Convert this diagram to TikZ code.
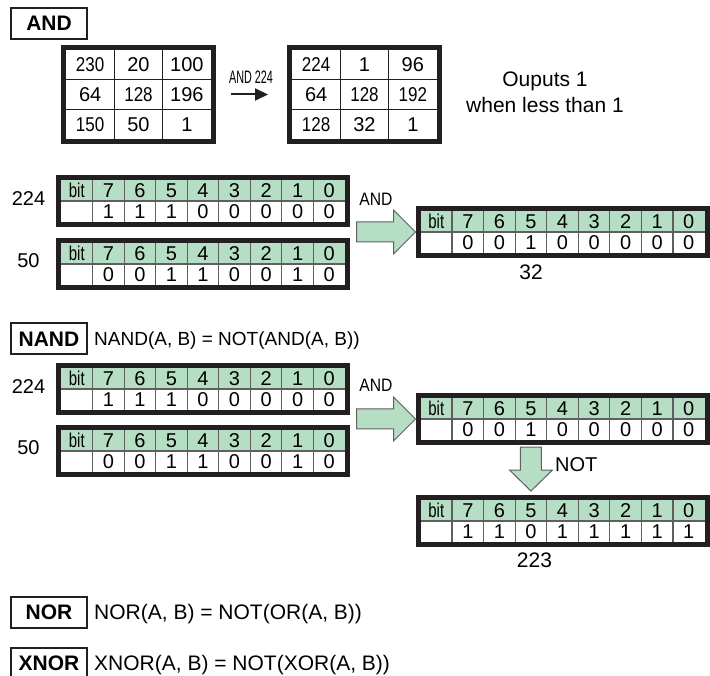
\documentclass[tikz,border=0pt]{standalone}
\usepackage{fontspec}
\setmainfont{Liberation Sans}
\usepackage{graphicx}
\usetikzlibrary{arrows.meta,calc}
\definecolor{hdr}{RGB}{181,222,196}
\definecolor{frm}{RGB}{35,31,32}
\definecolor{grd}{RGB}{95,95,95}
\newcommand\fs[1]{\fontsize{#1}{#1}\selectfont}
\newcommand\cnd[2][0.85]{\scalebox{#1}[1]{#2}}
\newcommand\cw{31.556}
\tikzset{
 regframe/.style={draw=frm, line width=5pt, minimum width=289pt, minimum height=47pt, inner sep=0pt},
 regtxt/.style={inner sep=0pt, font=\fs{20}},
 cellline/.style={draw=grd, line width=1.2pt},
 mframe/.style={draw=frm, line width=5pt, minimum width=150pt, minimum height=94pt, inner sep=0pt},
 mtxt/.style={inner sep=0pt, font=\fs{20}},
 mline/.style={draw=frm, line width=1pt},
 opbox/.style={draw=frm, line width=2pt, minimum width=76pt, minimum height=31pt, inner sep=0pt, font=\fs{21}\bfseries},
 txt/.style={inner sep=0pt, font=\fs{21}},
 blockarrow/.style={fill=hdr, draw=grd, line width=1pt, line join=miter},
}
\newcommand\bitreg[4]{%
  \begin{scope}[shift={(#2,#3)}]
    \fill[hdr] (0,0) rectangle (284,21);
    \fill[white] (0,21) rectangle (284,42);
    \foreach \i in {1,...,8} \draw[cellline] ({\i*\cw},0) -- ({\i*\cw},42);
    \draw[cellline] (0,21) -- (284,21);
    \node[regframe] (#1) at (142,21) {};
    \node[regtxt] (#1-bit) at ({0.5*\cw},10.5) {\cnd[0.75]{bit}};
    \foreach \v [count=\k] in {7,6,5,4,3,2,1,0} \node[regtxt] (#1-h\v) at ({(\k+0.5)*\cw},10.5) {\v};
    \foreach \v [count=\k] in {#4} \node[regtxt] (#1-v\k) at ({(\k+0.5)*\cw},31.5) {\v};
  \end{scope}}
\newcommand\mtx[4]{%
  \begin{scope}[shift={(#2,#3)}]
    \fill[white] (0,0) rectangle (145,89);
    \draw[mline] (48.33,0) -- (48.33,89) (96.67,0) -- (96.67,89) (0,29.67) -- (145,29.67) (0,59.33) -- (145,59.33);
    \node[mframe] (#1) at (72.5,44.5) {};
    \foreach \v [count=\k from 0] in {#4} {
      \pgfmathtruncatemacro\rr{\k/3}
      \pgfmathtruncatemacro\cc{\k-3*\rr}
      \node[mtxt] (#1-\k) at ({(\cc+0.5)*48.33},{(\rr+0.5)*29.67}) {\v};
    }
  \end{scope}}
\begin{document}
\begin{tikzpicture}[x=1pt,y=-1pt]
\useasboundingbox (0,0) rectangle (710,676);
% AND section
\node[opbox] (andbox) at (49,23.5) {AND};
\mtx{M1}{66}{50}{\cnd{230},20,100,64,\cnd{128},196,\cnd{150},50,1}
\mtx{M2}{292}{50}{\cnd{224},1,96,64,\cnd{128},\cnd{192},\cnd{128},32,1}
\draw[line width=2pt, frm, -{Triangle[length=13pt,width=12pt]}, shorten <=15pt, shorten >=19pt] (M1) -- (M2);
\node[inner sep=0pt, font=\fs{18}] (and224) at (251,77) {\cnd[0.6]{AND 224}};
\node[txt, anchor=base] (out1) at (545,87) {Ouputs 1};
\node[txt, anchor=base] (out2) at (545,113) {when less than 1};

\node[txt, font=\fs{20}] (la1) at (28.5,198.5) {224};
\node[txt, font=\fs{20}] (la2) at (28.5,260.5) {50};
\bitreg{A1}{61}{180}{1,1,1,0,0,0,0,0}
\bitreg{A2}{61}{243}{0,0,1,1,0,0,1,0}
\bitreg{R1}{420.5}{211}{0,0,1,0,0,0,0,0}
\draw[blockarrow] (R1.west) -- ++(-22,-22) -- ++(0,12) -- ++(-37,0) -- ++(0,20) -- ++(37,0) -- ++(0,12) -- cycle;
\node[inner sep=0pt, font=\fs{18}] (andA) at (376,199) {\cnd[0.87]{AND}};
\node[txt] (r32) at (531,272.5) {32};

% NAND section
\node[opbox] (nandbox) at (49,339) {NAND};
\node[txt, font=\fs{19}, anchor=base west] (nandf) at (94,346) {NAND(A, B) = NOT(AND(A, B))};
\node[txt, font=\fs{20}] (lb1) at (28.5,386.5) {224};
\node[txt, font=\fs{20}] (lb2) at (28.5,447.5) {50};
\bitreg{N1}{61}{368}{1,1,1,0,0,0,0,0}
\bitreg{N2}{61}{430}{0,0,1,1,0,0,1,0}
\bitreg{NR}{420.5}{398}{0,0,1,0,0,0,0,0}
\bitreg{NN}{420.5}{500}{1,1,0,1,1,1,1,1}
\draw[blockarrow] (NR.west) -- ++(-22,-22) -- ++(0,12) -- ++(-37,0) -- ++(0,20) -- ++(37,0) -- ++(0,12) -- cycle;
\node[inner sep=0pt, font=\fs{18}] (andB) at (376,385) {\cnd[0.87]{AND}};
\coordinate (nt) at ($(NN-h5 |- NN.north)+(0,-4)$);
\draw[blockarrow] (nt) -- ++(-21.5,-21) -- ++(11,0) -- ++(0,-23) -- ++(21,0) -- ++(0,23) -- ++(11,0) -- cycle;
\node[txt, font=\fs{20}, anchor=west] (notl) at (555,464.5) {NOT};
\node[txt] (r223) at (534.5,560) {223};

% NOR / XNOR
\node[opbox] (norbox) at (49,612) {NOR};
\node[txt, anchor=base west] (norf) at (94,619.5) {NOR(A, B) = NOT(OR(A, B))};
\node[opbox] (xnorbox) at (49,663) {XNOR};
\node[txt, anchor=base west] (xnorf) at (94,670.5) {XNOR(A, B) = NOT(XOR(A, B))};
\end{tikzpicture}
\end{document}
